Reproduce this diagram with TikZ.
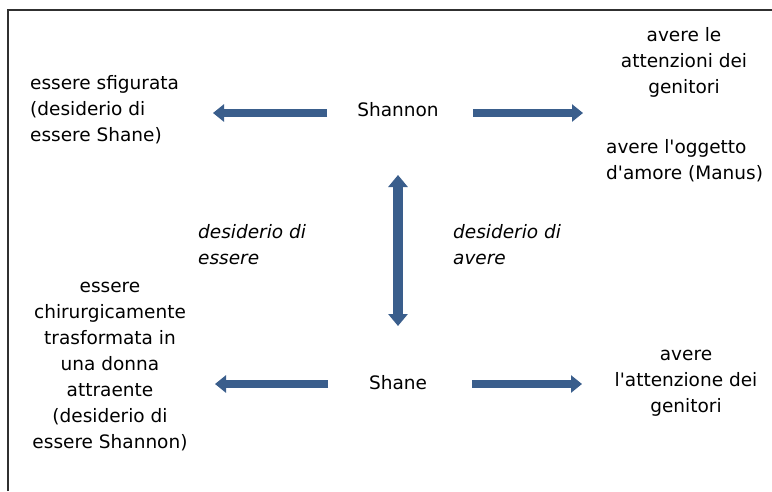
\documentclass[tikz,border=0pt]{standalone}
\usepackage{fontspec}
\setmainfont{DejaVu Sans}[Ligatures=TeXOff]
\usetikzlibrary{arrows.meta}
\definecolor{arrowblue}{HTML}{3A5E8C}
\definecolor{framegray}{HTML}{303030}
\tikzset{
  txt/.style={inner sep=0pt, font=\fontsize{18.5}{26}\selectfont, text=black},
  hbar/.style={draw=arrowblue, line width=8pt, line cap=butt, -{Triangle[width=17pt,length=11pt]}},
  vbar/.style={draw=arrowblue, line width=9.5pt, line cap=butt, {Triangle[width=19pt,length=12pt]}-{Triangle[width=19pt,length=12pt]}},
  frameline/.style={draw=framegray, line width=2pt, line join=miter}
}
\begin{document}
\begin{tikzpicture}[x=1pt,y=-1pt]
\useasboundingbox (0,0) rectangle (772,491);
\fill[white] (0,0) rectangle (772,491);
\draw[frameline] (8,491) -- (8,10) -- (772,10);

\node[txt] (shannon) at (398,110) {Shannon};
\node[txt] (shane) at (398,383) {Shane};

\node[txt, anchor=west, align=left] (sfig) at (30,110) {essere sfigurata\\(desiderio di\\essere Shane)};
\node[txt, align=center] (att1) at (684,62) {avere le\\attenzioni dei\\genitori};
\node[txt, anchor=west, align=left] (ogg) at (606,161) {avere l'oggetto\\d'amore (Manus)};
\node[txt, align=center] (chir) at (110,367) {essere\\chirurgicamente\\trasformata in\\una donna\\attraente\\(desiderio di\\essere Shannon)};
\node[txt, align=center] (att2) at (686,383) {avere\\l'attenzione dei\\genitori};
\node[txt, anchor=west, align=left, font=\fontsize{18.5}{26}\selectfont\itshape] (desE) at (198,245) {desiderio di\\essere};
\node[txt, anchor=west, align=left, font=\fontsize{18.5}{26}\selectfont\itshape] (desA) at (453,245) {desiderio di\\avere};

\coordinate (a1s) at (327,113);
\coordinate (a1e) at (213,113);
\coordinate (a2s) at (473,113);
\coordinate (a2e) at (583,113);
\coordinate (vt) at (398,175);
\coordinate (vb) at (398,326);
\coordinate (b1s) at (328,384);
\coordinate (b1e) at (215,384);
\coordinate (b2s) at (472,384);
\coordinate (b2e) at (582,384);

\draw[hbar] (a1s) -- (a1e);
\draw[hbar] (a2s) -- (a2e);
\draw[vbar] (vt) -- (vb);
\draw[hbar] (b1s) -- (b1e);
\draw[hbar] (b2s) -- (b2e);
\end{tikzpicture}
\end{document}
